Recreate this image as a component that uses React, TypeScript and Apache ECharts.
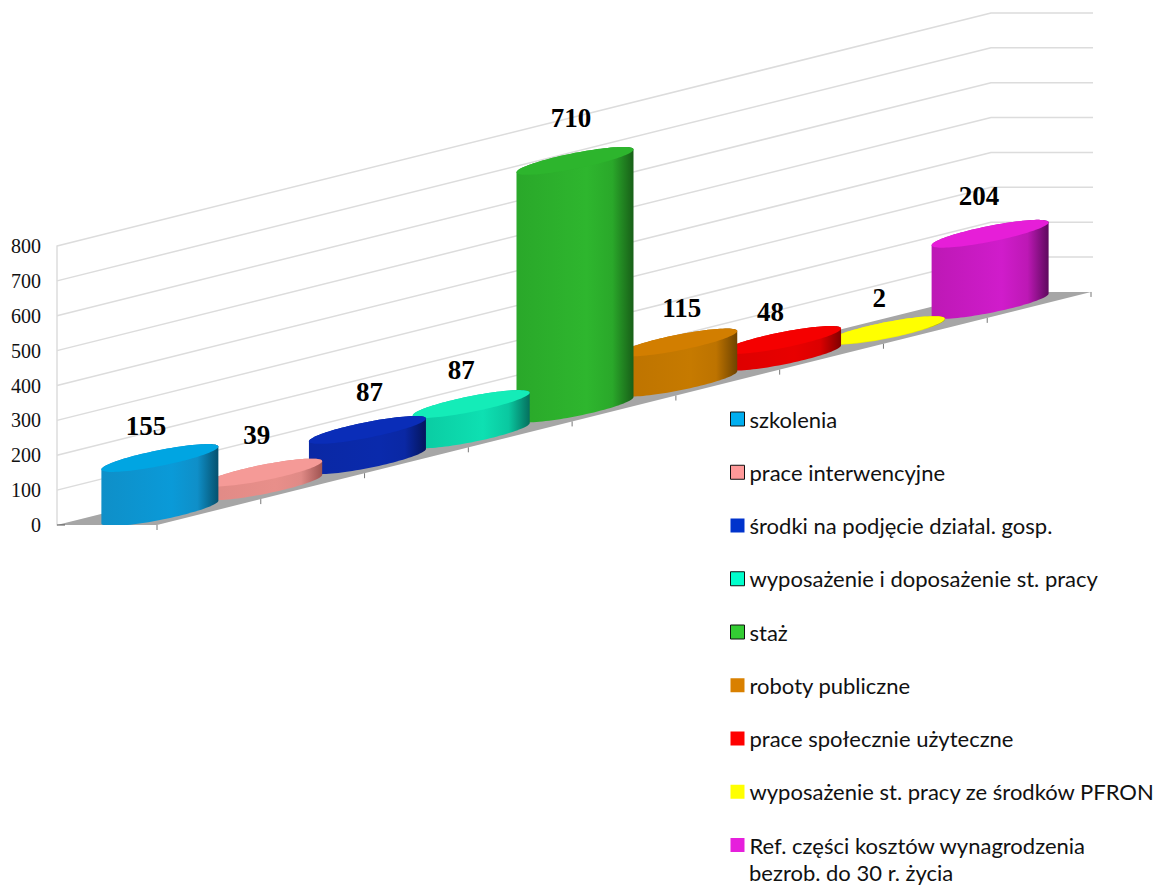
import React, { useEffect, useRef } from "react";
import * as echarts from "echarts";

const categories = [
  "szkolenia",
  "prace interwencyjne",
  "środki na podjęcie działal. gosp.",
  "wyposażenie i doposażenie st. pracy",
  "staż",
  "roboty publiczne",
  "prace społecznie użyteczne",
  "wyposażenie st. pracy ze środków PFRON",
  "Ref. części kosztów wynagrodzenia bezrob. do 30 r. życia",
];
const values = [155, 39, 87, 87, 710, 115, 48, 2, 204];
const yTicks = [100, 200, 300, 400, 500, 600, 700, 800];

const legendColors = ["#00aeef", "#ff9999", "#0033cc", "#00ffcc", "#33cc33", "#d98000", "#ff0000", "#ffff00", "#e61fdc"];
const legendBorders = [true, true, false, true, true, false, false, false, false];
const topColors = ["#00a5e2", "#f59a97", "#0a2db8", "#14ecb8", "#2db52d", "#d27e00", "#f50000", "#ffff00", "#e61ed8"];
const bodyLeft = ["#0f8fc8", "#e08a86", "#0a28a4", "#0ac8a0", "#2aa82a", "#bd7300", "#dc0000", "#e6e600", "#bd18b5"];
const bodyMid = ["#0a9ad8", "#e88f8a", "#0a2aac", "#0ee0b2", "#2eb62e", "#c67a00", "#e80000", "#f5f500", "#d01ccb"];
const bodyRight = ["#05516e", "#a05452", "#05155c", "#05705e", "#185f18", "#6e4300", "#800000", "#a0a000", "#5e0a5e"];
const labelShift = [
  [-14, -32], [-7, -38], [2, -38], [-10, -34], [-4, -43], [3, -34], [-12, -28], [-7, -32], [-11, -38],
];

const SHEAR = 0.2495;
const DEPTH = 100;
const CENTER_DEPTH = 51;
const RX = 58.5;
const RY = 8;
const SKEW = 0.195;
const SIDE_LEN = 102;
const GRID_COLOR = "#dcdcdc";

function project(p: number[], cs: any) {
  return [p[0] + CENTER_DEPTH, p[1] - (p[0] - cs.x) * SHEAR];
}

function ellipsePoint(c: number[], t: number) {
  const cos = Math.cos(t);
  return [c[0] + RX * cos, c[1] - SKEW * RX * cos + RY * Math.sin(t)];
}

function cylinderItem(k: number) {
  return (params: any, api: any) => {
    const cs = params.coordSys;
    const idx = api.value(0);
    const v = api.value(1);
    const base = project(api.coord([idx, 0]), cs);
    const top = project(api.coord([idx, v]), cs);
    const floorY = cs.y + cs.height;
    const body: number[][] = [];
    const cap: number[][] = [];
    const STEPS = 48;
    for (let i = 0; i <= STEPS; i++) {
      const t = Math.PI - (Math.PI * i) / STEPS;
      const p = ellipsePoint(base, t);
      body.push([p[0], Math.min(p[1], floorY)]);
    }
    for (let i = 0; i <= STEPS; i++) {
      const t = (-Math.PI * i) / STEPS;
      body.push(ellipsePoint(top, t));
    }
    for (let i = 0; i < STEPS * 2; i++) {
      cap.push(ellipsePoint(top, (Math.PI * i) / STEPS));
    }
    const shift = labelShift[k];
    return {
      type: "group",
      children: [
        {
          type: "polygon",
          shape: { points: body },
          style: {
            fill: new echarts.graphic.LinearGradient(0, 0, 1, 0, [
              { offset: 0, color: bodyLeft[k] },
              { offset: 0.6, color: bodyMid[k] },
              { offset: 0.82, color: bodyLeft[k] },
              { offset: 1, color: bodyRight[k] },
            ]),
          },
        },
        { type: "polygon", shape: { points: cap }, style: { fill: topColors[k] } },
        {
          type: "text",
          style: {
            text: String(v),
            x: top[0] + shift[0],
            y: top[1] + shift[1],
            fill: "#000",
            font: 'bold 27px "Liberation Serif"',
            textAlign: "center",
            textVerticalAlign: "middle",
          },
        },
      ],
    };
  };
}

function wallItem(params: any, api: any) {
  const cs = params.coordSys;
  const y = api.coord([0, api.value(0)])[1];
  const x0 = cs.x;
  const x1 = cs.x + cs.width;
  const y1 = y - cs.width * SHEAR;
  return {
    type: "polyline",
    shape: { points: [[x0, y], [x1, y1], [x1 + SIDE_LEN, y1]] },
    style: { stroke: GRID_COLOR, lineWidth: 1.5, fill: "none" },
  };
}

function floorItem(params: any, api: any) {
  const cs = params.coordSys;
  const y0 = cs.y + cs.height;
  const x0 = cs.x;
  const y1 = y0 - cs.width * SHEAR;
  const x1 = cs.x + cs.width;
  const band = cs.width / categories.length;
  const children: any[] = [
    {
      type: "polygon",
      shape: { points: [[x0, y0], [x0 + DEPTH, y0], [x1 + DEPTH, y1], [x1, y1]] },
      style: { fill: "#a6a6a6" },
    },
    { type: "line", shape: { x1: x0, y1: y0, x2: x0 + 8, y2: y0 }, style: { stroke: "#555", lineWidth: 1 } },
  ];
  for (let i = 0; i <= categories.length; i++) {
    const x = x0 + i * band + DEPTH;
    const y = y0 - i * band * SHEAR;
    children.push({
      type: "line",
      shape: { x1: x, y1: y, x2: x, y2: y + 5 },
      style: { stroke: "#777", lineWidth: 1 },
    });
  }
  return { type: "group", children };
}

const LEGEND_FONT = "Lato";
const LEGEND_SIZE = 22;
const lastName = categories[categories.length - 1];

export default function App() {
  const ref = useRef<HTMLDivElement>(null);
  useEffect(() => {
    const chart = echarts.init(ref.current!, null, { renderer: "svg" });
    chart.setOption({
      animation: false,
      backgroundColor: "#fff",
      grid: { left: 57, top: 246, width: 934, height: 279 },
      xAxis: { type: "category", data: categories, show: false },
      yAxis: {
        type: "value",
        min: 0,
        max: 800,
        interval: 100,
        splitLine: { show: false },
        axisTick: { show: false },
        axisLine: { show: true, lineStyle: { color: GRID_COLOR, width: 1.5 } },
        axisLabel: { margin: 16, color: "#111", fontFamily: "Liberation Serif", fontSize: 20 },
      },
      legend: {
        orient: "vertical",
        left: 730,
        top: 407,
        padding: 0,
        itemWidth: 14,
        itemHeight: 14,
        itemGap: 29.25,
        selectedMode: false,
        formatter: (name: string) => (name === lastName ? "Ref. części kosztów wynagrodzenia" : name),
        textStyle: { color: "#111", fontFamily: LEGEND_FONT, fontSize: LEGEND_SIZE, lineHeight: 24 },
        data: categories.map((name, k) => ({
          name,
          icon: "rect",
          itemStyle: {
            color: legendColors[k],
            borderColor: legendBorders[k] ? "#111" : legendColors[k],
            borderWidth: legendBorders[k] ? 1 : 0,
          },
        })),
      },
      graphic: [
        {
          type: "text",
          left: 749,
          top: 861,
          style: { text: "bezrob. do 30 r. życia", fill: "#111", font: `${LEGEND_SIZE}px ${LEGEND_FONT}` },
        },
      ],
      series: [
        { type: "custom", name: "floor", z: 1, data: [[0]], renderItem: floorItem, silent: true },
        { type: "custom", name: "wall", z: 2, data: yTicks.map((t) => [t]), renderItem: wallItem, silent: true },
        ...categories.map((name, k) => ({
          type: "custom",
          name,
          z: 30 - k,
          itemStyle: { color: legendColors[k] },
          data: [[k, values[k]]],
          renderItem: cylinderItem(k),
        })),
      ],
    });
    return () => chart.dispose();
  }, []);
  return <div ref={ref} style={{ position: "absolute", left: 0, top: 0, width: 1163, height: 887 }} />;
}
